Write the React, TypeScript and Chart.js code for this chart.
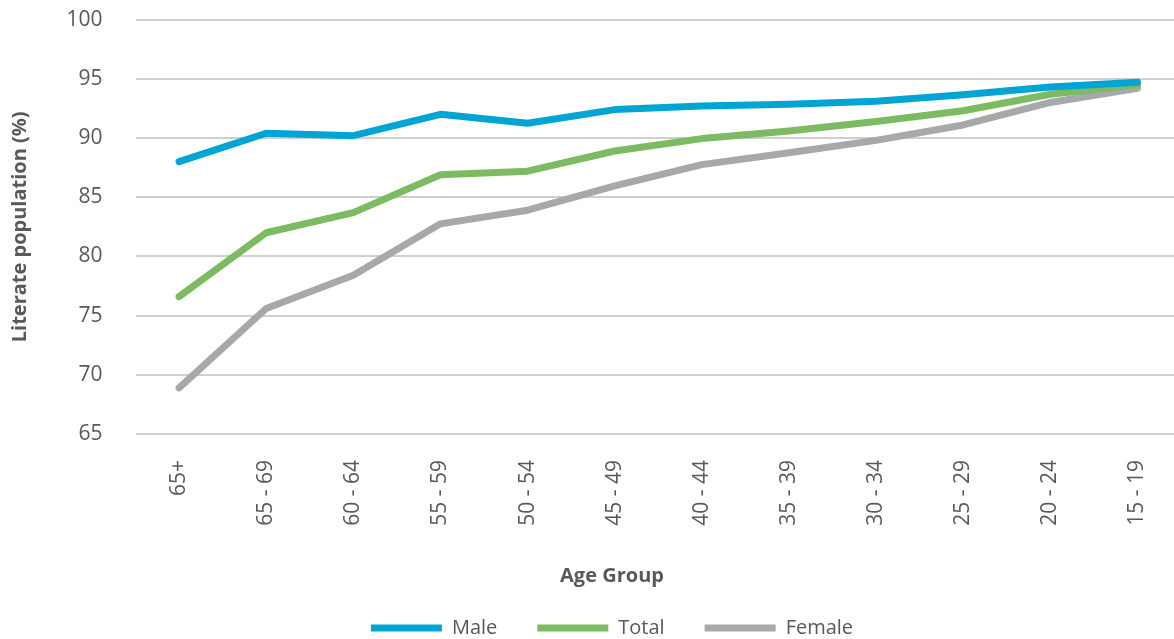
import React, { useEffect, useRef } from "react";
import { Chart, registerables } from "chart.js";

Chart.register(...registerables);

const categories = ["65+", "65 - 69", "60 - 64", "55 - 59", "50 - 54", "45 - 49", "40 - 44", "35 - 39", "30 - 34", "25 - 29", "20 - 24", "15 - 19"];
const maleValues = [88.0, 90.4, 90.2, 92.0, 91.25, 92.4, 92.7, 92.85, 93.1, 93.65, 94.3, 94.7];
const totalValues = [76.6, 82.0, 83.7, 86.9, 87.2, 88.9, 89.95, 90.6, 91.4, 92.3, 93.7, 94.5];
const femaleValues = [68.9, 75.6, 78.4, 82.75, 83.9, 85.95, 87.75, 88.75, 89.8, 91.1, 93.0, 94.2];
const yTicks = [65, 70, 75, 80, 85, 90, 95, 100];

const FONT = "'Open Sans', 'Noto Sans', sans-serif";
const TEXT = "#595959";

export default function App() {
  const ref = useRef<HTMLCanvasElement | null>(null);
  useEffect(() => {
    if (!ref.current) return;
    const chart = new Chart(ref.current, {
      type: "line",
      data: {
        labels: categories,
        datasets: [
          { label: "Male", data: maleValues, borderColor: "#00a5d4", backgroundColor: "#00a5d4" },
          { label: "Total", data: totalValues, borderColor: "#7dbb63", backgroundColor: "#7dbb63" },
          { label: "Female", data: femaleValues, borderColor: "#a7a8ac", backgroundColor: "#a7a8ac" },
        ].map((d) => ({
          ...d,
          yAxisID: "y",
          borderWidth: 7,
          borderCapStyle: "round" as const,
          borderJoinStyle: "round" as const,
          pointRadius: 0,
          pointHoverRadius: 0,
          tension: 0,
          pointStyle: "line" as const,
        })),
      },
      options: {
        responsive: false,
        animation: false,
        layout: { padding: { top: 0, left: 0, right: 0, bottom: 0 } },
        plugins: {
          tooltip: { enabled: false },
          title: {
            display: true,
            position: "bottom",
            weight: 500,
            text: "Age Group",
            color: TEXT,
            font: { family: FONT, size: 20, weight: "bold" },
            padding: { top: 20, bottom: -10 },
          },
          legend: {
            position: "bottom",
            labels: {
              usePointStyle: true,
              pointStyleWidth: 71,
              boxHeight: 7,
              padding: 40,
              color: TEXT,
              font: { family: FONT, size: 20 },
            },
          },
        },
        scales: {
          x: {
            offset: true,
            grid: { display: false },
            border: { display: false },
            ticks: {
              minRotation: 90,
              maxRotation: 90,
              padding: 18,
              color: TEXT,
              font: { family: FONT, size: 21 },
            },
            afterFit: (s: any) => {
              s.height = 110;
            },
          },
          y: {
            min: 65,
            max: 100,
            afterBuildTicks: (s: any) => {
              s.ticks = yTicks.map((v) => ({ value: v }));
            },
            grid: { color: "#cfcfcf", lineWidth: 2, drawTicks: false },
            border: { display: false },
            ticks: {
              padding: 33,
              color: TEXT,
              font: { family: FONT, size: 21 },
            },
            title: {
              display: true,
              text: "Literate population (%)",
              color: TEXT,
              font: { family: FONT, size: 20, weight: "bold" },
              padding: { top: 8, bottom: 4 },
            },
            afterFit: (s: any) => {
              s.width = 135.5;
            },
          },
          y2: {
            position: "right",
            display: true,
            grid: { display: false, drawTicks: false },
            border: { display: false },
            ticks: { display: false },
            afterFit: (s: any) => {
              s.width = 43;
            },
          },
        },
      },
    });
    return () => chart.destroy();
  }, []);
  return (
    <div style={{ position: "fixed", left: 0, top: 0, width: 1174, height: 639, overflow: "hidden", background: "#fff" }}>
      <canvas ref={ref} width={1224} height={674} style={{ display: "block", marginTop: -26 }} />
    </div>
  );
}
